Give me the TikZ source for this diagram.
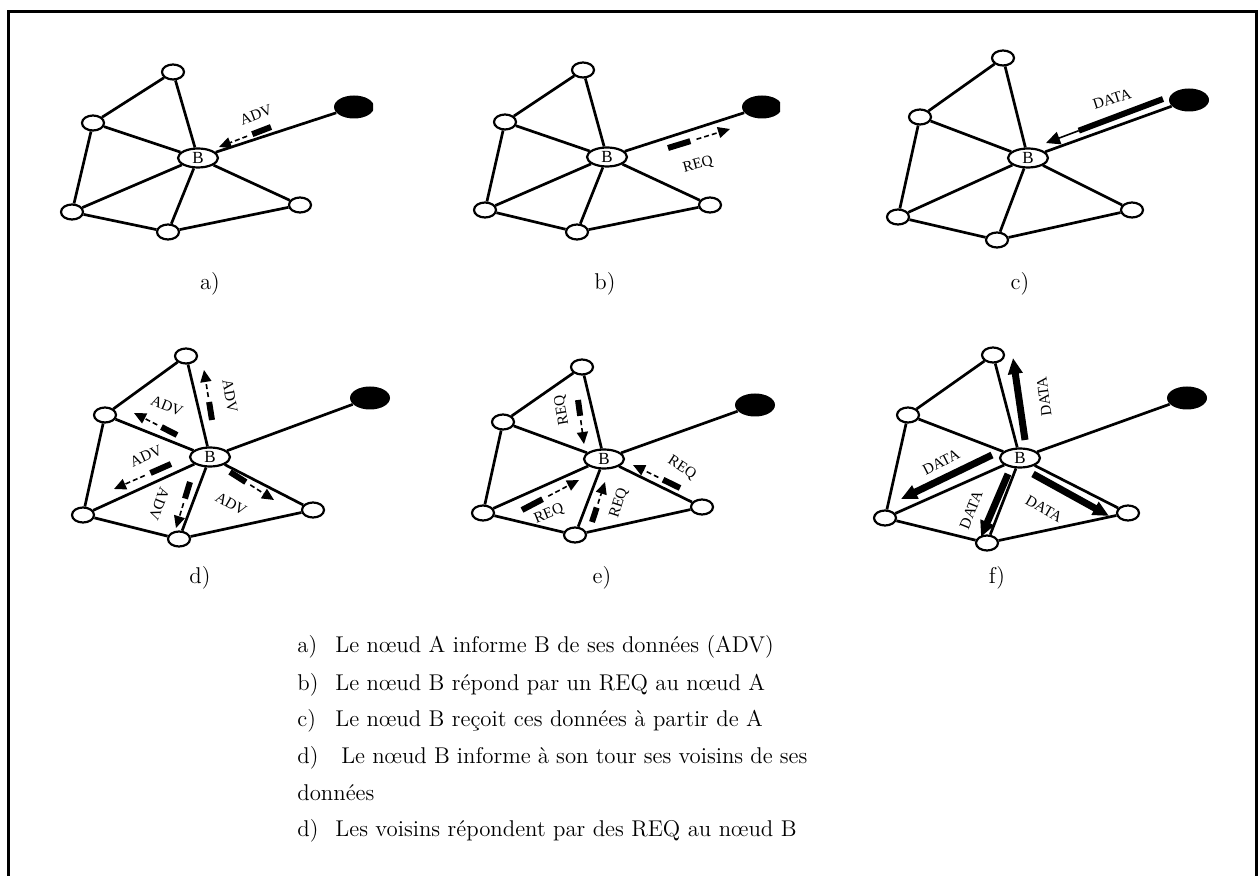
\documentclass[tikz,border=0pt]{standalone}
\usepackage{fontspec}
\newfontfamily\tms{Liberation Serif}
\usetikzlibrary{shapes.geometric,arrows.meta,calc}
\newcommand\net[8]{%
  \node[sn] (#1t) at (#2) {};
  \node[sn] (#1u) at (#3) {};
  \node[bn] (#1B) at (#4) {B};
  \node[sn] (#1l) at (#5) {};
  \node[sn] (#1d) at (#6) {};
  \node[sn] (#1r) at (#7) {};
  \node[an] (#1A) at (#8) {};
}
\newcommand\netlinks[1]{%
  \draw[link] (#1t)--(#1u) (#1t)--(#1B) (#1u)--(#1B) (#1u)--(#1l) (#1l)--(#1B)
    (#1l)--(#1d) (#1d)--(#1B) (#1B)--(#1r) (#1d)--(#1r) (#1B)--(#1A);
}
\newcommand\msg[2]{%
  \draw[bar] (#1) -- ($(#1)!0.36!(#2)$);
  \draw[thinpart] ($(#1)!0.46!(#2)$) -- (#2);
}
\begin{document}
\begin{tikzpicture}[x=0.5pt,y=-0.5pt,
  sn/.style={ellipse,draw,line width=1.1pt,fill=white,minimum width=11pt,minimum height=7.5pt,inner sep=0pt},
  bn/.style={ellipse,draw,line width=1.1pt,fill=white,minimum width=20pt,minimum height=9.5pt,inner sep=0pt,font=\tms\fontsize{8.5}{8.5}\selectfont},
  an/.style={ellipse,fill=black,minimum width=20pt,minimum height=11.5pt,inner sep=0pt},
  link/.style={line width=1.35pt},
  lbl/.style={font=\tms\fontsize{7.6}{7.6}\selectfont,inner sep=0pt},
  bar/.style={line width=3pt},
  thinpart/.style={line width=0.8pt,dash pattern=on 2.5pt off 1.5pt,-{Triangle[length=6pt,width=5.5pt]}},
  databar/.style={line width=3.5pt,-{Triangle[length=8pt,width=7pt]}},
  captxt/.style={font=\fontsize{11.4}{13}\selectfont,anchor=base west,inner sep=0pt},
  plabel/.style={font=\fontsize{11.4}{13}\selectfont,anchor=base,inner sep=0pt},
]
\useasboundingbox (0,0) rectangle (1258,876);
\draw[line width=1.5pt] (8,900) -- (8,12) -- (1256,12) -- (1256,900);

% ---------- panel a
\begin{scope}
\clip (0,0) rectangle (373,300);
\net{a}{173,72}{93,123}{198,158}{72,212}{168,232}{300,205}{354,107}
\end{scope}
\netlinks{a}
\coordinate (aS) at (271,127);
\coordinate (aT) at (219,147);
\msg{aS}{aT}
\node[lbl,rotate=21] (aL) at (256,115) {ADV};

% ---------- panel b
\begin{scope}
\clip (400,0) rectangle (780,300);
\net{b}{583,70}{505,122}{607,157}{485,210}{577,232}{710,205}{762,107}
\end{scope}
\netlinks{b}
\coordinate (bS) at (668,148);
\coordinate (bT) at (730,129);
\msg{bS}{bT}
\node[lbl,rotate=15] (bL) at (698,165) {REQ};

% ---------- panel c
\net{c}{1003,58}{920,117}{1028,158}{898,217}{997,240}{1132,210}{1189,100}
\netlinks{c}
\coordinate (cS) at (1163,99);
\coordinate (cT) at (1046,143);
\draw[bar] (cS) -- ($(cS)!0.72!(cT)$);
\draw[line width=0.8pt,-{Triangle[length=7pt,width=6.5pt]}] ($(cS)!0.72!(cT)$) -- (cT);
\node[lbl,rotate=18] (cL) at (1112,99) {DATA};

% ---------- panel d
\net{d}{186,356}{105,415}{210,457}{83,515}{179,539}{313,510}{370,398}
\netlinks{d}
\coordinate (d1S) at (212,420); \coordinate (d1T) at (204,370);
\coordinate (d2S) at (177,435); \coordinate (d2T) at (134,413);
\coordinate (d3S) at (171,464); \coordinate (d3T) at (114,489);
\coordinate (d4S) at (190,482); \coordinate (d4T) at (176,528);
\coordinate (d5S) at (230,472); \coordinate (d5T) at (274,500);
\msg{d1S}{d1T}
\msg{d2S}{d2T}
\msg{d3S}{d3T}
\msg{d4S}{d4T}
\msg{d5S}{d5T}
\node[lbl,rotate=-80] (d1L) at (230,396) {ADV};
\node[lbl,rotate=-22] (d2L) at (167,406) {ADV};
\node[lbl,rotate=24] (d3L) at (146,456) {ADV};
\node[lbl,rotate=-111] (d4L) at (159,504) {ADV};
\node[lbl,rotate=-30] (d5L) at (231,504) {ADV};

% ---------- panel e
\net{e}{582,367}{503,422}{604,459}{483,513}{575,535}{702,507}{755,405}
\netlinks{e}
\coordinate (e1S) at (578,400); \coordinate (e1T) at (584,444);
\coordinate (e2S) at (522,510); \coordinate (e2T) at (579,480);
\coordinate (e3S) at (592,522); \coordinate (e3T) at (605,482);
\coordinate (e4S) at (680,488); \coordinate (e4T) at (633,465);
\msg{e1S}{e1T}
\msg{e2S}{e2T}
\msg{e3S}{e3T}
\msg{e4S}{e4T}
\node[lbl,rotate=100] (e1L) at (562,410) {REQ};
\node[lbl,rotate=22] (e2L) at (549,514) {REQ};
\node[lbl,rotate=72] (e3L) at (619,503) {REQ};
\node[lbl,rotate=-33] (e4L) at (682,468) {REQ};

% ---------- panel f
\net{f}{993,355}{908,415}{1020,458}{885,518}{987,543}{1128,513}{1187,398}
\netlinks{f}
\coordinate (f1S) at (1025,440); \coordinate (f1T) at (1013,358);
\coordinate (f2S) at (992,455);  \coordinate (f2T) at (901,499);
\coordinate (f3S) at (1008,474); \coordinate (f3T) at (981,537);
\coordinate (f4S) at (1033,474); \coordinate (f4T) at (1109,516);
\draw[databar] (f1S) -- (f1T);
\draw[databar] (f2S) -- (f2T);
\draw[databar] (f3S) -- (f3T);
\draw[databar] (f4S) -- (f4T);
\node[lbl,rotate=98] (f1L) at (1044,397) {DATA};
\node[lbl,rotate=27] (f2L) at (941,462) {DATA};
\node[lbl,rotate=68] (f3L) at (971,510) {DATA};
\node[lbl,rotate=-30] (f4L) at (1044,509) {DATA};

% ---------- panel labels
\node[plabel] (la) at (210,290) {a)};
\node[plabel] (lb) at (605,290) {b)};
\node[plabel] (lc) at (1020,290) {c)};
\node[plabel] (ld) at (200,584) {d)};
\node[plabel] (le) at (602,584) {e)};
\node[plabel] (lf) at (997,584) {f)};

% ---------- captions
\node[captxt] (c1) at (297,653) {\makebox[19pt][l]{a)}Le nœud A informe B de ses données (ADV)};
\node[captxt] (c2) at (297,690) {\makebox[19pt][l]{b)}Le nœud B répond par un REQ au nœud A};
\node[captxt] (c3) at (297,726) {\makebox[19pt][l]{c)}Le nœud B reçoit ces données à partir de A};
\node[captxt] (c4) at (297,763) {\makebox[255pt][s]{d)\quad Le nœud B informe à son tour ses voisins de ses}};
\node[captxt] (c5) at (297,800) {données};
\node[captxt] (c6) at (297,836) {\makebox[19pt][l]{d)}Les voisins répondent par des REQ au nœud B};
\end{tikzpicture}
\end{document}
